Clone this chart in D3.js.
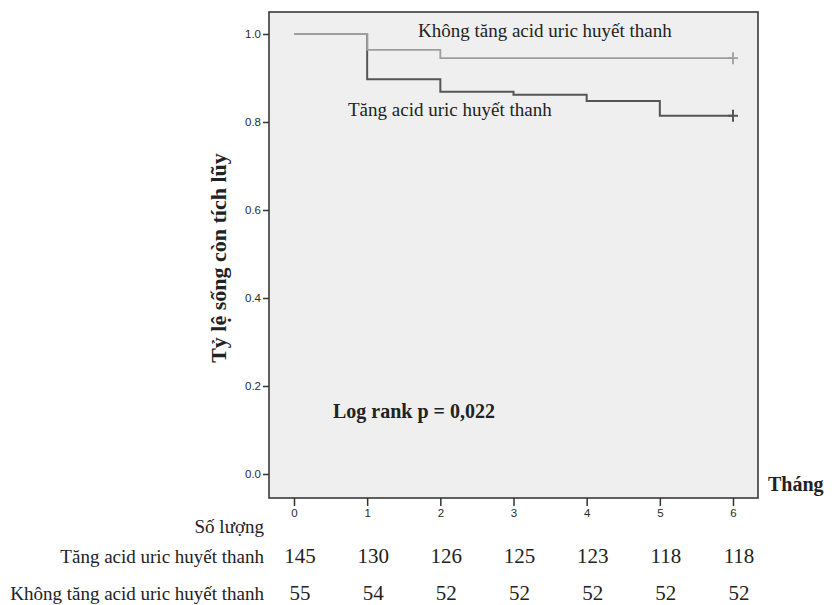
<!DOCTYPE html>
<html>
<head>
<meta charset="utf-8">
<script src="https://cdn.jsdelivr.net/npm/d3@7"></script>
<style>
  body { margin: 0; background: #fff; }
  .axis text { font-family: "Liberation Sans", Arial, sans-serif; font-size: 11.5px; fill: #2a2a2a; }
  .axis line { stroke: #333; stroke-width: 1.5; }
  .serif { font-family: "Liberation Serif", "Times New Roman", serif; fill: #222; }
</style>
</head>
<body>
<div id="chart"></div>
<script>
// donnees
const months = [0, 1, 2, 3, 4, 5, 6];
const survTang = [1.0, 0.897, 0.869, 0.862, 0.848, 0.814, 0.814];
const survKhong = [1.0, 0.964, 0.945, 0.945, 0.945, 0.945, 0.945];
const nTang = [145, 130, 126, 125, 123, 118, 118];
const nKhong = [55, 54, 52, 52, 52, 52, 52];
const yTicks = [0.0, 0.2, 0.4, 0.6, 0.8, 1.0];
const labelTang = "Tăng acid uric huyết thanh";
const labelKhong = "Không tăng acid uric huyết thanh";

const W = 832, H = 605;
const frame = { left: 269, right: 758, top: 12, bottom: 498 };

const svg = d3.select("#chart").append("svg")
  .attr("width", W).attr("height", H);

const x = d3.scaleLinear().domain([0, 6]).range([294, 733]);
const y = d3.scaleLinear().domain([0, 1]).range([474, 34]);

// fond du graphique
svg.append("rect")
  .attr("x", frame.left).attr("y", frame.top)
  .attr("width", frame.right - frame.left)
  .attr("height", frame.bottom - frame.top)
  .attr("fill", "#efefef")
  .attr("stroke", "#3a3a3a")
  .attr("stroke-width", 1.6);

//////////////////////////// Axes ////////////////////////////
const yAxis = svg.append("g")
  .attr("class", "axis")
  .attr("transform", `translate(${frame.left},0)`)
  .call(d3.axisLeft(y).tickValues(yTicks).tickFormat(d3.format(".1f")).tickSize(6).tickPadding(2));
yAxis.select(".domain").remove();

const xAxis = svg.append("g")
  .attr("class", "axis")
  .attr("transform", `translate(0,${frame.bottom})`)
  .call(d3.axisBottom(x).tickValues(months).tickFormat(d3.format("d")).tickSize(8).tickPadding(3));
xAxis.select(".domain").remove();

//////////////////////////// Courbes ////////////////////////////
const step = d3.line()
  .x((d, i) => x(months[i]))
  .y(d => y(d))
  .curve(d3.curveStepAfter);

const series = [
  { values: survTang, color: "#555", width: 2 },
  { values: survKhong, color: "#9e9e9e", width: 1.8 }
];

series.forEach(s => {
  svg.append("path")
    .attr("d", step(s.values))
    .attr("fill", "none")
    .attr("stroke", s.color)
    .attr("stroke-width", s.width);

  // censure au dernier mois
  const cx = x(months[months.length - 1]);
  const cy = y(s.values[s.values.length - 1]);
  svg.append("path")
    .attr("d", `M${cx - 5},${cy}H${cx + 5}M${cx},${cy - 6}V${cy + 6}`)
    .attr("stroke", s.color)
    .attr("stroke-width", s.width);
});

//////////////////////////// Textes ////////////////////////////
svg.append("text").attr("class", "serif")
  .attr("x", 418).attr("y", 37)
  .attr("font-size", 19)
  .text(labelKhong);

svg.append("text").attr("class", "serif")
  .attr("x", 348).attr("y", 116)
  .attr("font-size", 19)
  .text(labelTang);

svg.append("text").attr("class", "serif")
  .attr("x", 333).attr("y", 418)
  .attr("font-size", 20).attr("font-weight", "bold")
  .text("Log rank p = 0,022");

svg.append("text").attr("class", "serif")
  .attr("transform", "translate(226,258) rotate(-90)")
  .attr("text-anchor", "middle")
  .attr("font-size", 22).attr("font-weight", "bold")
  .text("Tỷ lệ sống còn tích lũy");

svg.append("text").attr("class", "serif")
  .attr("x", 768).attr("y", 491)
  .attr("font-size", 20).attr("font-weight", "bold")
  .text("Tháng");

//////////////////////////// Tableau des effectifs ////////////////////////////
const rows = [
  { label: labelTang, values: nTang, yy: 563 },
  { label: labelKhong, values: nKhong, yy: 600 }
];

svg.append("text").attr("class", "serif")
  .attr("x", 264).attr("y", 533)
  .attr("text-anchor", "end")
  .attr("font-size", 19)
  .text("Số lượng");

rows.forEach(r => {
  svg.append("text").attr("class", "serif")
    .attr("x", 264).attr("y", r.yy)
    .attr("text-anchor", "end")
    .attr("font-size", 19)
    .text(r.label);

  svg.selectAll(null)
    .data(r.values)
    .enter()
    .append("text")
    .attr("class", "serif")
    .attr("x", (d, i) => x(months[i]) + 6)
    .attr("y", r.yy)
    .attr("text-anchor", "middle")
    .attr("font-size", 21)
    .text(d => d);
});
</script>
</body>
</html>
